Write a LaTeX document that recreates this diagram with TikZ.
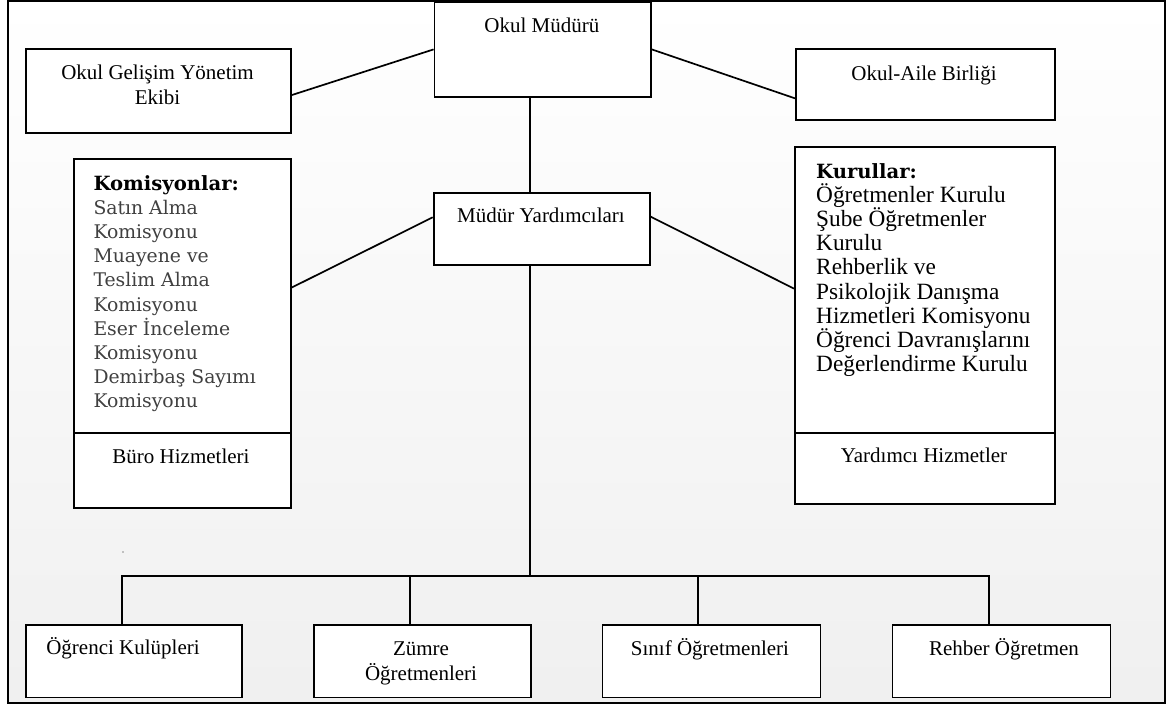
\documentclass[tikz,border=0pt]{standalone}
\usepackage{fontspec}
\setmainfont{Liberation Serif}
\newfontfamily\cambfont{DejaVu Serif}
\usetikzlibrary{calc}
\begin{document}
\begin{tikzpicture}[x=1pt,y=-1pt,
  box/.style={draw=black, line width=1.8pt, fill=white, inner sep=0pt, anchor=north west},
  conn/.style={draw=black, line width=1.7pt},
  lbl/.style={inner sep=0pt, anchor=base, align=center, font=\fontsize{21}{24.5}\selectfont},
  listtxt/.style={inner sep=0pt, anchor=north west, align=left}
]
\useasboundingbox (0,0) rectangle (1170,707);
% background frame
\shade[top color=white, bottom color=black!6] (8,1) rectangle (1165,703);
\draw[line width=2.4pt] (8,1) rectangle (1165,703);

% boxes
\node[box, minimum width=216.4pt, minimum height=95pt] (om) at (433.6,1) {};
\node[box, minimum width=265pt, minimum height=84.3pt] (ogye) at (25,47.7) {};
\node[box, minimum width=259pt, minimum height=71.6pt] (oa) at (795,47.7) {};
\node[box, minimum width=217pt, minimum height=274pt] (kom) at (72.7,158.3) {};
\node[box, minimum width=217pt, minimum height=74.4pt] (buro) at (72.7,432.3) {};
\node[box, minimum width=216.3pt, minimum height=72pt] (my) at (432.7,192) {};
\node[box, minimum width=260pt, minimum height=286.3pt] (kur) at (794,146) {};
\node[box, minimum width=260pt, minimum height=70.7pt] (yh) at (794,432.3) {};
\node[box, minimum width=216pt, minimum height=72.5pt] (ok) at (25,624) {};
\node[box, minimum width=217pt, minimum height=72.5pt] (zu) at (313,624) {};
\node[box, minimum width=218pt, minimum height=72.5pt] (si) at (601.6,624) {};
\node[box, minimum width=218pt, minimum height=72.5pt] (re) at (891.5,624) {};

% spine coordinates
\coordinate (sp) at (530,0);
\coordinate (bus) at (530,576);
\coordinate (d1) at (122,576);
\coordinate (d2) at (410,576);
\coordinate (d3) at (698,576);
\coordinate (d4) at (989,576);

% connectors
\draw[conn] ($(ogye.south east)!0.45!(ogye.north east)$) -- (om.west);
\draw[conn] (om.east) -- ($(oa.south west)!0.31!(oa.north west)$);
\draw[conn] (om.south -| sp) -- (my.north -| sp);
\draw[conn] ($(kom.south east)!0.531!(kom.north east)$) -- ($(my.south west)!0.657!(my.north west)$);
\draw[conn] ($(my.south east)!0.665!(my.north east)$) -- ($(kur.south west)!0.505!(kur.north west)$);
\draw[conn] (my.south -| sp) -- (bus);
\draw[line width=1.8pt] (529.4,479) -- (529.4,491);
\draw[conn] (d1 |- ok.north) -- (d1) -- (d4) -- (d4 |- re.north);
\draw[conn] (d2) -- (d2 |- zu.north);
\draw[conn] (d3) -- (d3 |- si.north);
\fill[black!45] (123,552) circle (0.8pt);

% labels
\node[lbl] (om-t) at (541.8,32) {Okul Müdürü};
\node[lbl] (ogye-t) at (157.5,104) {Okul Gelişim Yönetim\\Ekibi};
\node[lbl] (oa-t) at (924,80) {Okul-Aile Birliği};
\node[lbl] (my-t) at (541,222) {Müdür Yardımcıları};
\node[lbl] (buro-t) at (181,463) {Büro Hizmetleri};
\node[lbl] (yh-t) at (924,462) {Yardımcı Hizmetler};
\node[lbl] (ok-t) at (123,654) {Öğrenci Kulüpleri};
\node[lbl] (zu-t) at (421,680) {Zümre\\Öğretmenleri};
\node[lbl] (si-t) at (710,655) {Sınıf Öğretmenleri};
\node[lbl] (re-t) at (1004,655) {Rehber Öğretmen};

\node[listtxt, font=\cambfont\fontsize{18.8}{24.2}\selectfont, text=black!75] (kom-t) at (93.3,175)
  {{\bfseries\color{black}\fontsize{19.6}{24.2}\selectfont Komisyonlar:}\\
   Satın Alma\\ Komisyonu\\ Muayene ve\\ Teslim Alma\\ Komisyonu\\ Eser İnceleme\\ Komisyonu\\ Demirbaş Sayımı\\ Komisyonu};
\node[listtxt, font=\fontsize{23.3}{24.2}\selectfont] (kur-t) at (816,163)
  {{\cambfont\bfseries\fontsize{19.6}{24.2}\selectfont Kurullar:}\\
   Öğretmenler Kurulu\\ Şube Öğretmenler\\ Kurulu\\ Rehberlik ve\\ Psikolojik Danışma\\ Hizmetleri Komisyonu\\ Öğrenci Davranışlarını\\ Değerlendirme Kurulu};
\end{tikzpicture}
\end{document}
